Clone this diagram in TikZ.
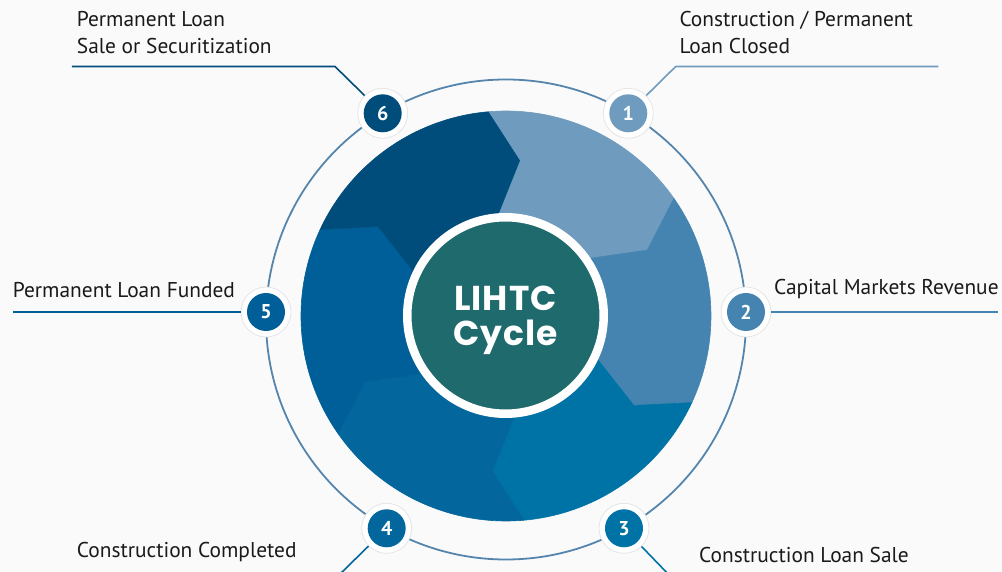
\documentclass[tikz,border=0pt]{standalone}
\usepackage{fontspec}
\setmainfont{PT Sans}
\newfontfamily\cyclefont{Poppins}[LetterSpace=3]
\usepackage{tikz}

\definecolor{bg_grey}{HTML}{FAFAFA}
\definecolor{col1}{HTML}{6E9BBE}
\definecolor{col2}{HTML}{4584B0}
\definecolor{col3}{HTML}{0073A6}
\definecolor{col4}{HTML}{03669C}
\definecolor{col5}{HTML}{005F98}
\definecolor{col6}{HTML}{004D7C}
\definecolor{hub_teal}{HTML}{1E6A6C}
\definecolor{ring_blue}{HTML}{5585AC}
\definecolor{text_black}{HTML}{1A1A1A}

\begin{document}
\begin{tikzpicture}[
      x=1pt, y=1pt,
      badge_node/.style={
         circle,
         fill=white,
         draw=black!10,
         line width=0.8pt,
         minimum size=50pt,
         inner sep=0pt,
         text=white,
         font=\bfseries\fontsize{20}{20}\selectfont,
         path picture={\fill[#1] (path picture bounding box.center) circle[radius=19pt];}},
      label_text/.style={
         inner sep=0pt,
         align=left,
         text=text_black,
         font=\fontsize{21.4}{26.7}\selectfont},
      leader_line/.style={
         line width=1.6pt,
         draw=#1},
      hub_node/.style={
         circle,
         fill=hub_teal,
         draw=white,
         line width=8.5pt,
         minimum size=196.5pt,
         inner sep=0pt,
         align=center,
         text=white,
         text depth=0pt,
         font=\cyclefont\bfseries\fontsize{34.5}{35}\selectfont}
]
      % page
      \fill[bg_grey] (-506,-256) rectangle (496,316);
      \clip (-506,-256) rectangle (496,316);

      % outer ring
      \draw[line width=1.8pt, ring_blue] (0,-3.5) circle[radius=240];

      % segments of the wheel
      \foreach \a/\col in {95/col1, 35/col2, -25/col3, -85/col4, -145/col5, 155/col6}
        \filldraw[\col, line width=0.6pt, line join=round]
          (\a:205) arc[start angle=\a, end angle=\a-60, radius=205]
          -- ({\a-70}:156) -- ({\a-60}:100)
          arc[start angle=\a-60, end angle=\a, radius=100]
          -- ({\a-10}:156) -- cycle;

      % hub
      \node[hub_node] (hub) at (-0.5,0.5) {LIHTC\\Cycle};

      % badges
      \foreach \n/\x/\y/\col in {% number/x/y/colour
        1/122.3/202.7/col1,
        2/240/4/col2,
        3/118/-212.3/col3,
        4/-119.3/-212.3/col4,
        5/-240/4/col5,
        6/-123.3/202.7/col6}
        \node[badge_node=\col] (b\n) at (\x,\y) {\n};

      % leader corners and ends
      \coordinate (k6) at (-171,249.5);
      \coordinate (e6) at (-434,249.5);
      \coordinate (k1) at (169.7,249.5);
      \coordinate (e1) at (432.3,249.5);
      \coordinate (e5) at (-492.7,4);
      \coordinate (e2) at (492.3,4);
      \coordinate (e4) at (-170,-262);
      \coordinate (e3) at (166,-262);

      \draw[leader_line=col6] (b6) -- (k6) -- (e6);
      \draw[leader_line=col1] (b1) -- (k1) -- (e1);
      \draw[leader_line=col5] (b5) -- (e5);
      \draw[leader_line=col2] (b2) -- (e2);
      \draw[leader_line=col4] (b4) -- (e4);
      \draw[leader_line=col3] (b3) -- (e3);

      % labels
      \node[label_text, anchor=north west] (lab6) at (-429.3,304.5) {Permanent Loan\\Sale or Securitization};
      \node[label_text, anchor=north west] (lab1) at (173.3,304.5) {Construction / Permanent\\Loan Closed};
      \node[label_text, anchor=base west] (lab5) at (-493.3,18.3) {Permanent Loan Funded};
      \node[label_text, anchor=base west] (lab2) at (268,21) {Capital Markets Revenue};
      \node[label_text, anchor=base west] (lab4) at (-429.3,-241.3) {Construction Completed};
      \node[label_text, anchor=base west] (lab3) at (193,-246.7) {Construction Loan Sale};
\end{tikzpicture}
\end{document}
